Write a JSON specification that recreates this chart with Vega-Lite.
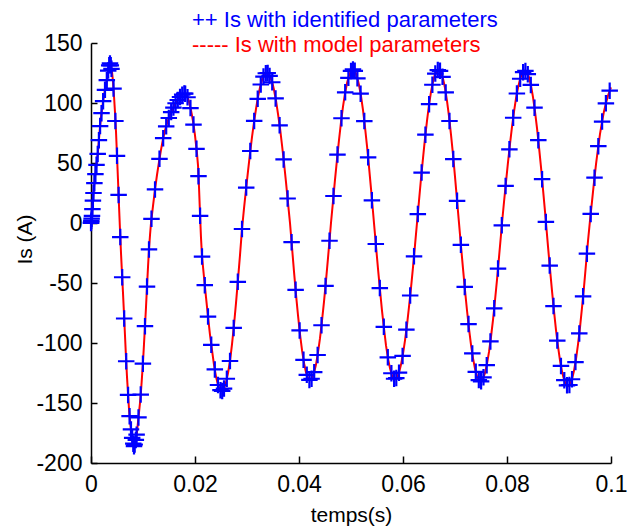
{
  "$schema": "https://vega.github.io/schema/vega-lite/v6.json",
  "width": 520,
  "height": 420,
  "autosize": "none",
  "padding": {"left": 91, "top": 43, "right": 19, "bottom": 63},
  "background": "white",
  "config": {
    "view": {"stroke": null},
    "font": "Liberation Sans"
  },
  "title": {
    "text": "++ Is with identified parameters",
    "subtitle": "----- Is with model parameters",
    "anchor": "start",
    "frame": "group",
    "dx": 101,
    "offset": -25,
    "font": "Liberation Sans",
    "subtitleFont": "Liberation Sans",
    "fontSize": 22,
    "subtitleFontSize": 22,
    "fontWeight": "normal",
    "color": "#0000ff",
    "subtitleColor": "#ff0000",
    "subtitlePadding": 3
  },
  "datasets": {
    "model": [
      {"t":0,"i":0},{"t":0.00019,"i":6},{"t":0.00038,"i":20},{"t":0.00058,"i":30},{"t":0.00077,"i":38},{"t":0.00096,"i":45},{"t":0.00115,"i":52},{"t":0.00135,"i":60},{"t":0.00154,"i":70},{"t":0.00173,"i":80},{"t":0.00192,"i":88},{"t":0.00212,"i":95},{"t":0.00231,"i":101},{"t":0.0025,"i":106},{"t":0.00269,"i":111},{"t":0.00288,"i":115},{"t":0.00308,"i":120},{"t":0.00327,"i":126},{"t":0.00346,"i":131},{"t":0.00365,"i":133},{"t":0.00385,"i":131},{"t":0.00404,"i":126},{"t":0.00423,"i":118},{"t":0.00442,"i":106},{"t":0.00462,"i":92},{"t":0.00481,"i":76},{"t":0.005,"i":56},{"t":0.00519,"i":36},{"t":0.00538,"i":15},{"t":0.00558,"i":-6},{"t":0.00577,"i":-25},{"t":0.00596,"i":-42},{"t":0.00615,"i":-58},{"t":0.00635,"i":-76},{"t":0.00654,"i":-94},{"t":0.00673,"i":-112},{"t":0.00692,"i":-128},{"t":0.00712,"i":-142},{"t":0.00731,"i":-155},{"t":0.0075,"i":-165},{"t":0.00769,"i":-172},{"t":0.00788,"i":-178},{"t":0.00808,"i":-183},{"t":0.00827,"i":-186},{"t":0.00846,"i":-184},{"t":0.00865,"i":-180},{"t":0.00885,"i":-174},{"t":0.00904,"i":-166},{"t":0.00923,"i":-158},{"t":0.00942,"i":-150},{"t":0.00962,"i":-140},{"t":0.00981,"i":-128},{"t":0.01,"i":-116},{"t":0.01019,"i":-101},{"t":0.01038,"i":-86},{"t":0.01058,"i":-70},{"t":0.01077,"i":-53},{"t":0.01096,"i":-37},{"t":0.01115,"i":-22},{"t":0.01135,"i":-10},{"t":0.01154,"i":0},
      {"t":0.01192,"i":14},{"t":0.01231,"i":28},{"t":0.01269,"i":40},{"t":0.01308,"i":51},{"t":0.01346,"i":61},{"t":0.01385,"i":70},{"t":0.01423,"i":77},{"t":0.01462,"i":83},{"t":0.015,"i":88},{"t":0.01538,"i":92},{"t":0.01577,"i":95.5},{"t":0.01615,"i":99},{"t":0.01654,"i":101.5},{"t":0.01692,"i":104},{"t":0.01731,"i":106},{"t":0.01769,"i":107.5},{"t":0.01808,"i":108},{"t":0.01846,"i":106},{"t":0.01885,"i":101},{"t":0.01923,"i":94},{"t":0.01962,"i":85},{"t":0.02,"i":73},{"t":0.02038,"i":58},{"t":0.02058,"i":48},{"t":0.02077,"i":30},{"t":0.02096,"i":8},{"t":0.02115,"i":-12},{"t":0.02135,"i":-28},{"t":0.02173,"i":-45},{"t":0.02212,"i":-62},{"t":0.0225,"i":-78},{"t":0.02288,"i":-93},{"t":0.02327,"i":-106},{"t":0.02365,"i":-118},{"t":0.02404,"i":-128},{"t":0.02442,"i":-135},{"t":0.02481,"i":-139},{"t":0.02519,"i":-140},{"t":0.02558,"i":-138},{"t":0.02596,"i":-133},{"t":0.02635,"i":-125},{"t":0.02673,"i":-115},{"t":0.02712,"i":-101},{"t":0.0275,"i":-85},{"t":0.02788,"i":-67},{"t":0.02827,"i":-47},{"t":0.02865,"i":-27},{"t":0.02904,"i":-5},{"t":0.02942,"i":12},{"t":0.02981,"i":28},{"t":0.03019,"i":43},{"t":0.03058,"i":58},{"t":0.03096,"i":71.5},{"t":0.03135,"i":84},{"t":0.03173,"i":95},{"t":0.03212,"i":105},{"t":0.0325,"i":113},{"t":0.03288,"i":119},{"t":0.03327,"i":123},{"t":0.03365,"i":125},{"t":0.03404,"i":125},{"t":0.03442,"i":122},{"t":0.03481,"i":118},{"t":0.03519,"i":111},{"t":0.03558,"i":102},{"t":0.03596,"i":91},{"t":0.03635,"i":79},{"t":0.03673,"i":65},{"t":0.03712,"i":50},{"t":0.0375,"i":34},{"t":0.03788,"i":17},{"t":0.03827,"i":0},{"t":0.03865,"i":-20},{"t":0.03904,"i":-40.5},{"t":0.03942,"i":-59.5},{"t":0.03981,"i":-77},{"t":0.04019,"i":-92.6},{"t":0.04058,"i":-106},{"t":0.04096,"i":-116.7},{"t":0.04135,"i":-124.6},{"t":0.04173,"i":-129.4},{"t":0.04212,"i":-131},{"t":0.0425,"i":-129.5},{"t":0.04288,"i":-125},{"t":0.04327,"i":-118},{"t":0.04365,"i":-108},{"t":0.04404,"i":-96},{"t":0.04442,"i":-81.6},{"t":0.04481,"i":-65.5},{"t":0.04519,"i":-48},{"t":0.04558,"i":-29},{"t":0.04596,"i":-10},{"t":0.04615,"i":0},{"t":0.04654,"i":18},{"t":0.04692,"i":36},{"t":0.04731,"i":53},{"t":0.04769,"i":69},{"t":0.04808,"i":84},{"t":0.04846,"i":97},{"t":0.04885,"i":108},{"t":0.04923,"i":116.5},{"t":0.04962,"i":123},{"t":0.05,"i":126.7},{"t":0.05038,"i":128},{"t":0.05077,"i":126.6},{"t":0.05115,"i":122},{"t":0.05154,"i":115},{"t":0.05192,"i":106},{"t":0.05231,"i":94},{"t":0.05269,"i":80},{"t":0.05308,"i":64},{"t":0.05346,"i":47},{"t":0.05385,"i":28.5},{"t":0.05423,"i":9.6},{"t":0.05442,"i":0},{"t":0.05481,"i":-19.4},{"t":0.05519,"i":-38},{"t":0.05558,"i":-56},{"t":0.05596,"i":-73},{"t":0.05635,"i":-88},{"t":0.05673,"i":-102},{"t":0.05712,"i":-113},{"t":0.0575,"i":-121},{"t":0.05788,"i":-127},{"t":0.05827,"i":-129.7},{"t":0.05846,"i":-130},{"t":0.05885,"i":-128.7},{"t":0.05923,"i":-124.7},{"t":0.05962,"i":-118},{"t":0.06,"i":-109},{"t":0.06038,"i":-98},{"t":0.06077,"i":-85},{"t":0.06115,"i":-70},{"t":0.06154,"i":-54},{"t":0.06192,"i":-37},{"t":0.06231,"i":-18.5},{"t":0.06269,"i":0},{"t":0.06308,"i":18.6},{"t":0.06346,"i":36.9},{"t":0.06385,"i":54},{"t":0.06423,"i":70.6},{"t":0.06462,"i":85.4},{"t":0.065,"i":98.4},{"t":0.06538,"i":109},{"t":0.06577,"i":117.8},{"t":0.06615,"i":124},{"t":0.06654,"i":127},{"t":0.06692,"i":127.9},{"t":0.06731,"i":125.7},{"t":0.06769,"i":120.5},{"t":0.06808,"i":112.5},{"t":0.06846,"i":101.8},{"t":0.06885,"i":88.8},{"t":0.06923,"i":73.7},{"t":0.06962,"i":56.9},{"t":0.07,"i":38.7},{"t":0.07038,"i":19.5},{"t":0.07077,"i":0},{"t":0.07115,"i":-19.2},{"t":0.07154,"i":-38},{"t":0.07192,"i":-56},{"t":0.07231,"i":-72.9},{"t":0.07269,"i":-88},{"t":0.07308,"i":-101.5},{"t":0.07346,"i":-112.6},{"t":0.07385,"i":-121.4},{"t":0.07423,"i":-127.8},{"t":0.07462,"i":-131.2},{"t":0.075,"i":-132},{"t":0.07538,"i":-129.8},{"t":0.07577,"i":-124.9},{"t":0.07615,"i":-117.4},{"t":0.07654,"i":-107.4},{"t":0.07692,"i":-95},{"t":0.07731,"i":-80.7},{"t":0.07769,"i":-64.6},{"t":0.07808,"i":-47.2},{"t":0.07846,"i":-28.7},{"t":0.07885,"i":-9.6},{"t":0.07904,"i":0},{"t":0.07942,"i":17.3},{"t":0.07981,"i":34.3},{"t":0.08019,"i":50.6},{"t":0.08058,"i":66},{"t":0.08096,"i":80.1},{"t":0.08135,"i":92.8},{"t":0.08173,"i":103.8},{"t":0.08212,"i":112.8},{"t":0.0825,"i":119.7},{"t":0.08288,"i":124.4},{"t":0.08327,"i":126.7},{"t":0.08346,"i":127},{"t":0.08385,"i":125.6},{"t":0.08423,"i":121.4},{"t":0.08462,"i":114.4},{"t":0.085,"i":104.9},{"t":0.08538,"i":93.1},{"t":0.08577,"i":79.1},{"t":0.08615,"i":63.5},{"t":0.08654,"i":46.5},{"t":0.08692,"i":28.3},{"t":0.08731,"i":9.5},{"t":0.0875,"i":0},{"t":0.08788,"i":-19.3},{"t":0.08827,"i":-38.4},{"t":0.08865,"i":-56.4},{"t":0.08904,"i":-73.4},{"t":0.08942,"i":-89},{"t":0.08981,"i":-102.8},{"t":0.09019,"i":-114.4},{"t":0.09058,"i":-123.8},{"t":0.09096,"i":-130.4},{"t":0.09135,"i":-134.6},{"t":0.09173,"i":-136},{"t":0.09212,"i":-134.6},{"t":0.0925,"i":-130.2},{"t":0.09288,"i":-123.2},{"t":0.09327,"i":-113.5},{"t":0.09365,"i":-101.3},{"t":0.09404,"i":-87},{"t":0.09442,"i":-70.8},{"t":0.09481,"i":-53.2},{"t":0.09519,"i":-34.4},{"t":0.09558,"i":-14.9},{"t":0.09596,"i":2},{"t":0.09635,"i":18},{"t":0.09673,"i":34},{"t":0.09712,"i":49},{"t":0.0975,"i":62},{"t":0.09788,"i":74},{"t":0.09827,"i":84},{"t":0.09865,"i":93},{"t":0.09904,"i":100},{"t":0.09942,"i":106},{"t":0.09981,"i":111},{"t":0.1,"i":113}
    ],
    "identified": [
      {"t":0,"i":0},{"t":0.00002,"i":0.6},{"t":0.00006,"i":1.8},{"t":0.00012,"i":3.6},{"t":0.00019,"i":6},{"t":0.00027,"i":11.6},{"t":0.00037,"i":18.6},{"t":0.00048,"i":25},{"t":0.00065,"i":33.2},{"t":0.00085,"i":40.8},{"t":0.00106,"i":48.5},{"t":0.00129,"i":57.6},{"t":0.00152,"i":69},{"t":0.00175,"i":80.8},{"t":0.00202,"i":91.5},{"t":0.00233,"i":101.5},{"t":0.00269,"i":111},{"t":0.00304,"i":119},{"t":0.00331,"i":127},{"t":0.0035,"i":131.4},{"t":0.00365,"i":133},{"t":0.00381,"i":131.4},
      {"t":0.00394,"i":128.5},{"t":0.00433,"i":112},{"t":0.00469,"i":85},{"t":0.005,"i":56},{"t":0.00531,"i":23.4},{"t":0.00563,"i":-11.7},{"t":0.006,"i":-45.2},{"t":0.00638,"i":-79.6},{"t":0.00677,"i":-115.2},{"t":0.00713,"i":-143.3},{"t":0.00742,"i":-161},{"t":0.00769,"i":-172},{"t":0.00792,"i":-179},{"t":0.00813,"i":-183.9},{"t":0.00827,"i":-186},{"t":0.0084,"i":-184.6},{"t":0.00862,"i":-180.8},
      {"t":0.00877,"i":-176.4},{"t":0.00913,"i":-162},{"t":0.00956,"i":-143},{"t":0.00998,"i":-117.2},{"t":0.01038,"i":-86},{"t":0.01077,"i":-53},{"t":0.01115,"i":-22},{"t":0.01163,"i":3.5},{"t":0.01231,"i":28},{"t":0.01317,"i":53.5},{"t":0.01388,"i":70.7},{"t":0.01446,"i":80.6},{"t":0.01496,"i":87.5},{"t":0.01542,"i":92.4},{"t":0.01585,"i":96.2},{"t":0.01627,"i":99.8},{"t":0.01669,"i":102.5},{"t":0.01712,"i":105},{"t":0.01754,"i":106.9},{"t":0.01794,"i":107.9},{"t":0.01812,"i":107.8},
      {"t":0.01856,"i":104.8},{"t":0.01913,"i":95.8},{"t":0.01971,"i":82},{"t":0.02029,"i":61.8},{"t":0.02067,"i":39},{"t":0.02098,"i":6},{"t":0.02135,"i":-28},{"t":0.02188,"i":-51.8},{"t":0.0225,"i":-78},{"t":0.02313,"i":-101.5},{"t":0.02381,"i":-122},{"t":0.02442,"i":-135},{"t":0.0249,"i":-139.3},{"t":0.02523,"i":-140},{"t":0.02558,"i":-138},
      {"t":0.02612,"i":-129.8},{"t":0.02673,"i":-115},{"t":0.02744,"i":-87.4},{"t":0.02823,"i":-49},{"t":0.02904,"i":-5},{"t":0.02985,"i":29.5},{"t":0.03063,"i":60},{"t":0.03138,"i":85.1},{"t":0.03206,"i":103.5},{"t":0.03265,"i":115.4},{"t":0.03317,"i":122},{"t":0.03362,"i":124.8},{"t":0.03398,"i":125},
      {"t":0.03435,"i":122.6},{"t":0.03485,"i":117.3},{"t":0.0355,"i":103.8},{"t":0.03627,"i":81.4},{"t":0.03704,"i":53},{"t":0.03781,"i":20.4},{"t":0.03858,"i":-16},{"t":0.03935,"i":-55.7},{"t":0.04012,"i":-89.5},{"t":0.04087,"i":-114},{"t":0.0415,"i":-126.5},{"t":0.042,"i":-130.8},{"t":0.04242,"i":-129.8},
      {"t":0.04292,"i":-124.3},{"t":0.04358,"i":-110},{"t":0.04433,"i":-85.2},{"t":0.0451,"i":-52.4},{"t":0.04587,"i":-14.8},{"t":0.04663,"i":22.5},{"t":0.0474,"i":57},{"t":0.04817,"i":87.3},{"t":0.04888,"i":108.9},{"t":0.0495,"i":121},{"t":0.05,"i":126.7},{"t":0.05038,"i":128},{"t":0.05073,"i":126.8},
      {"t":0.05123,"i":120.6},{"t":0.05185,"i":107.8},{"t":0.05256,"i":84.9},{"t":0.05329,"i":54.7},{"t":0.05402,"i":18.9},{"t":0.05477,"i":-17.5},{"t":0.05554,"i":-54.2},{"t":0.05631,"i":-86.5},{"t":0.05708,"i":-111.9},{"t":0.05777,"i":-125.2},{"t":0.05829,"i":-129.8},{"t":0.05871,"i":-129.2},
      {"t":0.05923,"i":-124.7},{"t":0.05992,"i":-110.8},{"t":0.06065,"i":-88.9},{"t":0.06138,"i":-60.4},{"t":0.06212,"i":-27.8},{"t":0.06285,"i":7.4},{"t":0.06358,"i":42},{"t":0.06431,"i":73.6},{"t":0.06502,"i":99},{"t":0.06565,"i":115.2},{"t":0.06621,"i":124.5},{"t":0.06669,"i":127.4},{"t":0.06712,"i":126.8},
      {"t":0.0676,"i":121.8},{"t":0.06821,"i":108.8},{"t":0.06894,"i":85},{"t":0.06967,"i":53.3},{"t":0.0704,"i":18.5},{"t":0.07113,"i":-18.2},{"t":0.07187,"i":-53.3},{"t":0.0726,"i":-84.2},{"t":0.07333,"i":-108.7},{"t":0.074,"i":-124},{"t":0.07458,"i":-130.9},{"t":0.07502,"i":-131.9},
      {"t":0.07548,"i":-128.6},{"t":0.0761,"i":-118.5},{"t":0.07681,"i":-98.7},{"t":0.07754,"i":-71.1},{"t":0.07827,"i":-38},{"t":0.079,"i":-1.9},{"t":0.07973,"i":30.9},{"t":0.08046,"i":61.4},{"t":0.08119,"i":87.7},{"t":0.0819,"i":107.9},{"t":0.08254,"i":120.2},{"t":0.0831,"i":125.7},{"t":0.08354,"i":126.7},
      {"t":0.084,"i":124},{"t":0.08458,"i":115.1},{"t":0.08529,"i":96.1},{"t":0.08602,"i":69},{"t":0.08675,"i":36.5},{"t":0.08748,"i":0.9},{"t":0.08821,"i":-35.5},{"t":0.08894,"i":-69.2},{"t":0.08967,"i":-98},{"t":0.09038,"i":-119.1},{"t":0.09102,"i":-131},{"t":0.09154,"i":-135.3},{"t":0.092,"i":-135},
      {"t":0.0925,"i":-130.2},{"t":0.09317,"i":-115.9},{"t":0.0939,"i":-92},{"t":0.09463,"i":-61.1},{"t":0.09537,"i":-25.6},{"t":0.0961,"i":7.6},{"t":0.09683,"i":37.8},{"t":0.09756,"i":64},{"t":0.09829,"i":84.5},{"t":0.09902,"i":99.7},{"t":0.09975,"i":110.3}
    ]
  },
  "layer": [
    {
      "data": {"name": "model"},
      "mark": {"type": "line", "color": "#ff0000", "strokeWidth": 2, "clip": false},
      "encoding": {
        "x": {
          "field": "t",
          "type": "quantitative",
          "scale": {"domain": [0, 0.1], "nice": false, "zero": false},
          "axis": {
            "title": "temps(s)",
            "values": [0, 0.02, 0.04, 0.06, 0.08, 0.1],
            "labelExpr": "toString(datum.value)",
            "grid": false,
            "domainColor": "#000000",
            "domainWidth": 1.5,
            "tickColor": "#000000",
            "tickWidth": 1.5,
            "tickSize": -7,
            "labelFont": "Liberation Sans",
            "labelFontSize": 23,
            "labelColor": "#000000",
            "labelPadding": 17,
            "labelFlush": false,
            "labelOverlap": false,
            "titleFont": "Liberation Sans",
            "titleFontSize": 21,
            "titleFontWeight": "normal",
            "titleColor": "#000000",
            "titleBaseline": "middle",
            "titleY": 52
          }
        },
        "y": {
          "field": "i",
          "type": "quantitative",
          "scale": {"domain": [-200, 150], "nice": false, "zero": false},
          "axis": {
            "title": "Is (A)",
            "values": [-200, -150, -100, -50, 0, 50, 100, 150],
            "labelExpr": "toString(datum.value)",
            "grid": false,
            "domainColor": "#000000",
            "domainWidth": 1.5,
            "tickColor": "#000000",
            "tickWidth": 1.5,
            "tickSize": -6,
            "labelFont": "Liberation Sans",
            "labelFontSize": 23,
            "labelColor": "#000000",
            "labelPadding": 15,
            "labelFlush": false,
            "labelOverlap": false,
            "titleFont": "Liberation Sans",
            "titleFontSize": 21,
            "titleFontWeight": "normal",
            "titleColor": "#000000",
            "titleBaseline": "middle",
            "titleAlign": "center",
            "titleX": -66,
            "titleY": 196
          }
        }
      }
    },
    {
      "data": {"name": "identified"},
      "mark": {
        "type": "point",
        "shape": "M-1,0H1M0,-1V1",
        "filled": false,
        "color": "#0000ff",
        "strokeWidth": 2.2,
        "size": 272,
        "opacity": 1,
        "clip": false
      },
      "encoding": {
        "x": {"field": "t", "type": "quantitative"},
        "y": {"field": "i", "type": "quantitative"}
      }
    }
  ]
}
